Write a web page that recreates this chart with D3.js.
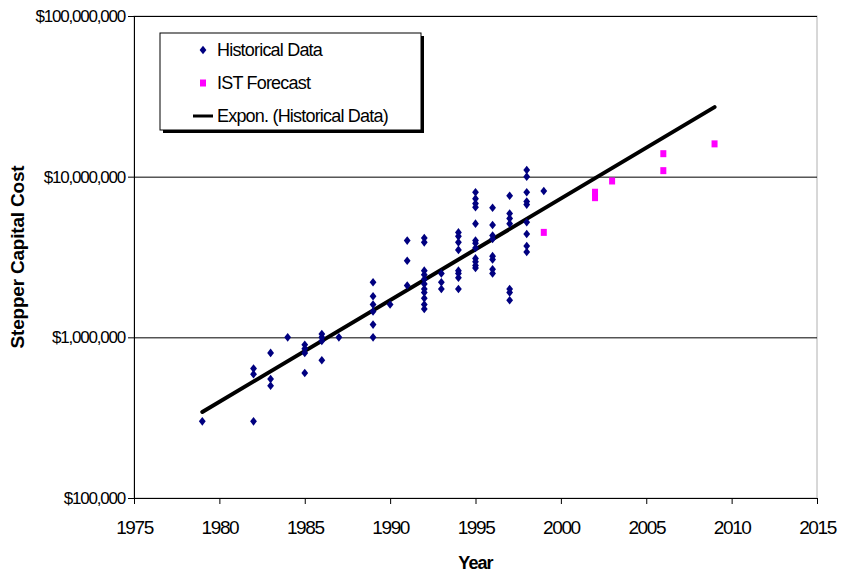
<!DOCTYPE html>
<html><head>
<meta charset="utf-8">
<script src="https://d3js.org/d3.v7.min.js"></script>
<style>
  body { margin: 0; background: #fff; }
  svg text { font-family: Arial, "Liberation Sans", sans-serif; fill: #000; }
  .tick text { font-size: 17px; letter-spacing: -1.2px; }
  .x.axis .tick text { font-size: 19px; letter-spacing: -1.4px; }
  .gridlines line { stroke: #000; }
  .gridlines .domain { stroke: none; }
</style>
</head>
<body>
<svg id="svg1" width="841" height="576"></svg>
<script>

// historical stepper costs, one row per year
const histYears = [
  1979,
  1982, 1982, 1982,
  1983, 1983, 1983,
  1984,
  1985, 1985, 1985, 1985,
  1986, 1986, 1986, 1986,
  1987,
  1989, 1989, 1989, 1989, 1989, 1989,
  1990,
  1991, 1991, 1991,
  1992, 1992, 1992, 1992, 1992, 1992, 1992, 1992, 1992, 1992, 1992,
  1993, 1993, 1993,
  1994, 1994, 1994, 1994, 1994, 1994, 1994, 1994,
  1995, 1995, 1995, 1995, 1995, 1995, 1995, 1995, 1995, 1995, 1995, 1995,
  1996, 1996, 1996, 1996, 1996, 1996, 1996, 1996,
  1997, 1997, 1997, 1997, 1997, 1997, 1997,
  1998, 1998, 1998, 1998, 1998, 1998, 1998, 1998, 1998,
  1999
];
const histCosts = [
  300000,
  300000, 640000, 590000,
  800000, 550000, 500000,
  1000000,
  900000, 850000, 800000, 600000,
  1050000, 1000000, 950000, 720000,
  1000000,
  2200000, 1800000, 1600000, 1450000, 1200000, 1000000,
  1600000,
  4000000, 3000000, 2100000,
  4150000, 3900000, 2600000, 2450000, 2300000, 2150000, 2000000, 1900000, 1750000, 1600000, 1500000,
  2500000, 2200000, 2000000,
  4500000, 4250000, 3900000, 3500000, 2600000, 2500000, 2350000, 2000000,
  8000000, 7300000, 6800000, 6450000, 5100000, 4000000, 3850000, 3600000, 3100000, 2950000, 2800000, 2700000,
  6400000, 5000000, 4300000, 4100000, 3200000, 3050000, 2650000, 2500000,
  7600000, 5900000, 5500000, 5100000, 2000000, 1900000, 1700000,
  11000000, 10000000, 8000000, 7000000, 6700000, 5200000, 4400000, 3700000, 3400000,
  8150000
];

// IST forecast points
const forecastYears = [1999, 2002, 2002, 2003, 2006, 2006, 2009];
const forecastCosts = [4500000, 8000000, 7400000, 9400000, 13900000, 10900000, 16000000];

// exponential trendline end points
const trendYears = [1979, 2009];
const trendCosts = [343000, 27100000];

const xTicks = [1975, 1980, 1985, 1990, 1995, 2000, 2005, 2010, 2015];
const yTicks = [100000, 1000000, 10000000, 100000000];

const legendLabels = ["Historical Data", "IST Forecast", "Expon. (Historical Data)"];


let svg1 = d3.select("svg#svg1");
const margins = {top: 16, right: 24, bottom: 78, left: 134};
const chWidth = svg1.attr("width") - margins.left - margins.right;
const chHeight = svg1.attr("height") - margins.top - margins.bottom;

let xScale = d3.scaleLinear().domain([1975, 2015]).range([0, chWidth]);
let yScale = d3.scaleLog().domain([100000, 100000000]).range([chHeight, 0]);

let chart = svg1.append("g")
  .attr("transform", `translate(${margins.left},${margins.top})`);

// plot area border (grey), gridlines drawn on top
chart.append("rect")
  .attr("x", 0).attr("y", 0)
  .attr("width", chWidth).attr("height", chHeight)
  .attr("fill", "none").attr("stroke", "#b0b0b0");

let grid = d3.axisLeft(yScale).tickValues(yTicks).tickSize(-chWidth).tickFormat("");
chart.append("g").attr("class", "gridlines").call(grid);

// axes
let dollars = d3.format("$,");
let leftAxis = d3.axisLeft(yScale).tickValues(yTicks).tickSize(6).tickPadding(3)
  .tickFormat(d => dollars(d));
chart.append("g").attr("class", "y axis").call(leftAxis);

let bottomAxis = d3.axisBottom(xScale).tickValues(xTicks).tickSize(6).tickPadding(17)
  .tickFormat(d => "" + d);
chart.append("g").attr("class", "x axis")
  .attr("transform", `translate(0,${chHeight})`)
  .call(bottomAxis);

chart.selectAll(".axis .domain, .axis line").attr("stroke", "#000");

// axis titles
svg1.append("text")
  .attr("x", margins.left + chWidth / 2).attr("y", 569)
  .attr("text-anchor", "middle")
  .style("font-size", "18px").style("font-weight", "bold").style("letter-spacing", "-0.9px")
  .text("Year");

svg1.append("text")
  .attr("transform", `translate(24,${margins.top + chHeight / 2}) rotate(-90)`)
  .attr("text-anchor", "middle")
  .style("font-size", "19px").style("font-weight", "bold").style("letter-spacing", "-0.2px")
  .text("Stepper Capital Cost");

// trendline
let trend = trendYears.map((y, i) => [y, trendCosts[i]]);
let lineGen = d3.line().x(d => xScale(d[0])).y(d => yScale(d[1]));
chart.append("path")
  .attr("d", lineGen(trend))
  .attr("fill", "none").attr("stroke", "#000")
  .attr("stroke-width", 4).attr("stroke-linecap", "round");

// historical points (diamonds)
const diamond = "M0,-4.3L3.4,0L0,4.3L-3.4,0Z";
let hist = histYears.map((y, i) => [y, histCosts[i]]);
chart.selectAll("path.hist").data(hist)
  .join("path")
  .attr("class", "hist")
  .attr("d", diamond)
  .attr("transform", d => `translate(${xScale(d[0])},${yScale(d[1])})`)
  .attr("fill", "#000080");

// forecast points (squares)
let fc = forecastYears.map((y, i) => [y, forecastCosts[i]]);
chart.selectAll("rect.fc").data(fc)
  .join("rect")
  .attr("class", "fc")
  .attr("x", d => xScale(d[0]) - 3)
  .attr("y", d => yScale(d[1]) - 3.5)
  .attr("width", 6).attr("height", 7)
  .attr("fill", "#ff00ff");

// legend
let legend = svg1.append("g").attr("transform", "translate(160,33)");
legend.append("rect").attr("x", 3).attr("y", 3).attr("width", 261).attr("height", 97).attr("fill", "#000");
legend.append("rect").attr("x", 0).attr("y", 0).attr("width", 261).attr("height", 97)
  .attr("fill", "#fff").attr("stroke", "#000");

const rowY = [17, 50, 83];
legend.append("path").attr("d", diamond).attr("transform", `translate(43,${rowY[0]})`).attr("fill", "#000080");
legend.append("rect").attr("x", 40).attr("y", rowY[1] - 3.5).attr("width", 6).attr("height", 7).attr("fill", "#ff00ff");
legend.append("line").attr("x1", 33).attr("x2", 53).attr("y1", rowY[2]).attr("y2", rowY[2])
  .attr("stroke", "#000").attr("stroke-width", 3);

legend.selectAll("text.lbl").data(legendLabels)
  .join("text")
  .attr("class", "lbl")
  .attr("x", 57)
  .attr("y", (d, i) => rowY[i])
  .attr("dy", "0.36em")
  .style("font-size", "18px").style("letter-spacing", "-0.8px")
  .text(d => d);

</script>
</body>
</html>
